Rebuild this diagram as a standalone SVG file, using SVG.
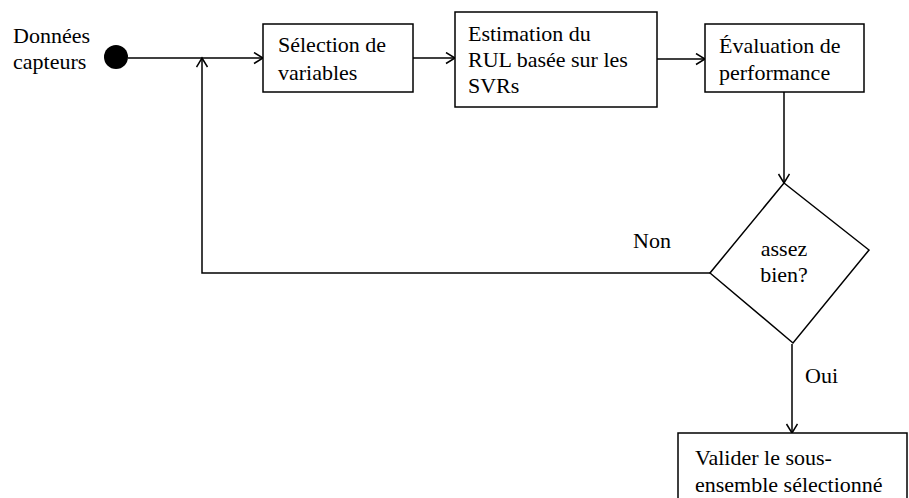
<svg xmlns="http://www.w3.org/2000/svg" width="909" height="498" viewBox="0 0 909 498">
<style>
text{font-family:"Liberation Serif","Times New Roman",serif;font-size:22px;fill:#000}
.box{fill:#fff;stroke:#000;stroke-width:1.5}
.ln{fill:none;stroke:#000;stroke-width:1.5}
</style>
<defs>
<marker id="arr" markerUnits="userSpaceOnUse" markerWidth="14" markerHeight="14" refX="10" refY="6" orient="auto">
<path d="M1,0.5 L10,6 L1,11.5" fill="none" stroke="#000" stroke-width="1.5"/>
</marker>
</defs>
<rect width="909" height="498" fill="#fff"/>
<g id="connectors">
<line class="ln" x1="128" y1="58" x2="263" y2="58" marker-end="url(#arr)"/>
<line class="ln" x1="413" y1="58" x2="455" y2="58" marker-end="url(#arr)"/>
<line class="ln" x1="657" y1="59" x2="705" y2="59" marker-end="url(#arr)"/>
<line class="ln" x1="784" y1="92" x2="784" y2="183" marker-end="url(#arr)"/>
<line class="ln" x1="792" y1="344" x2="792" y2="433" marker-end="url(#arr)"/>
<path class="ln" d="M710,273 H202 V58" stroke="#333" marker-end="url(#arr)"/>
<text x="633" y="248">Non</text>
<text x="805" y="383">Oui</text>
</g>
<g id="start">
<circle cx="116" cy="57" r="12" fill="#000"/>
<text x="13" y="43">Données</text>
<text x="13" y="69">capteurs</text>
</g>
<g id="selection">
<rect class="box" x="263" y="24" width="150" height="68"/>
<text x="278" y="52">Sélection de</text>
<text x="278" y="80">variables</text>
</g>
<g id="estimation">
<rect class="box" x="455" y="12" width="202" height="95"/>
<text x="468" y="41">Estimation du</text>
<text x="468" y="67">RUL basée sur les</text>
<text x="468" y="93">SVRs</text>
</g>
<g id="evaluation">
<rect class="box" x="705" y="24" width="159" height="68"/>
<text x="719" y="53">Évaluation de</text>
<text x="719" y="80">performance</text>
</g>
<g id="decision">
<polygon class="box" points="784,183 869,250 793,343 710,273"/>
<text x="784" y="256" text-anchor="middle">assez</text>
<text x="784" y="282" text-anchor="middle">bien?</text>
</g>
<g id="valider">
<rect class="box" x="678" y="433" width="229" height="80"/>
<text x="695" y="465">Valider le sous-</text>
<text x="695" y="492">ensemble sélectionné</text>
</g>
</svg>
